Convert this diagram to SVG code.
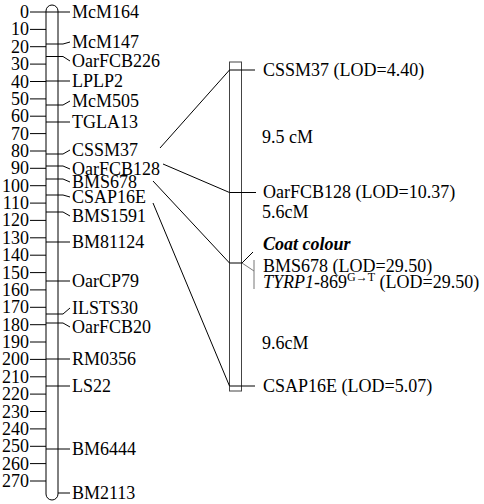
<svg xmlns="http://www.w3.org/2000/svg" width="484" height="504" viewBox="0 0 484 504">
<style>
text{font-family:"Liberation Serif","Times New Roman",serif;font-size:18px;fill:#000}
.num{text-anchor:end}
.tk{stroke:#000;stroke-width:1;fill:none}
.chr{stroke:#000;stroke-width:1;fill:#fff}
.chr2{stroke:#444;stroke-width:1;fill:#fff}
.ln{stroke:#000;stroke-width:1;fill:none}
.gr{stroke:#777;stroke-width:1;fill:none}
.bi{font-weight:bold;font-style:italic}
.it{font-style:italic}
.sup{font-size:12px}
</style>
<rect width="484" height="504" fill="#fff"/>
<g id="scale">
<path class="tk" d="M30,12H46M30,29.4H46M30,46.7H46M30,64.1H46M30,81.5H46M30,98.9H46M30,116.2H46M30,133.6H46M30,151H46M30,168.3H46M30,185.7H46M30,203.1H46M30,220.4H46M30,237.8H46M30,255.2H46M30,272.6H46M30,289.9H46M30,307.3H46M30,324.7H46M30,342H46M30,359.4H46M30,376.8H46M30,394.1H46M30,411.5H46M30,428.9H46M30,446.3H46M30,463.6H46M30,481H46"/>
<text class="num" x="29" y="18">0</text>
<text class="num" x="29" y="35.4">10</text>
<text class="num" x="29" y="52.7">20</text>
<text class="num" x="29" y="70.1">30</text>
<text class="num" x="29" y="87.5">40</text>
<text class="num" x="29" y="104.9">50</text>
<text class="num" x="29" y="122.2">60</text>
<text class="num" x="29" y="139.6">70</text>
<text class="num" x="29" y="157">80</text>
<text class="num" x="29" y="174.3">90</text>
<text class="num" x="29" y="191.7">100</text>
<text class="num" x="29" y="209.1">110</text>
<text class="num" x="29" y="226.4">120</text>
<text class="num" x="29" y="243.8">130</text>
<text class="num" x="29" y="261.2">140</text>
<text class="num" x="29" y="278.6">150</text>
<text class="num" x="29" y="295.9">160</text>
<text class="num" x="29" y="313.3">170</text>
<text class="num" x="29" y="330.7">180</text>
<text class="num" x="29" y="348">190</text>
<text class="num" x="29" y="365.4">200</text>
<text class="num" x="29" y="382.8">210</text>
<text class="num" x="29" y="400.1">220</text>
<text class="num" x="29" y="417.5">230</text>
<text class="num" x="29" y="434.9">240</text>
<text class="num" x="29" y="452.3">250</text>
<text class="num" x="29" y="469.6">260</text>
<text class="num" x="29" y="487">270</text>
</g>
<g id="chromosome-left">
<path class="chr" d="M46,11V494A6,6 0 0 0 58,494V11A6,6 0 0 0 46,11Z"/>
<path class="tk" d="M46,12H58M46,44H58M46,56.5H58M46,81H58M46,105H58M46,122H58M46,154H58M46,166H58M46,179H58M46,195H58M46,212H58M46,242H58M46,281H58M46,314H58M46,323H58M46,359H58M46,386H58M46,449H58"/>
</g>
<g id="markers-left">
<g id="m-McM164"><text x="72" y="18">McM164</text></g>
<g id="m-McM147"><text x="72" y="48">McM147</text></g>
<g id="m-OarFCB226"><text x="72" y="67">OarFCB226</text></g>
<g id="m-LPLP2"><text x="72" y="87">LPLP2</text></g>
<g id="m-McM505"><text x="72" y="107">McM505</text></g>
<g id="m-TGLA13"><text x="72" y="128">TGLA13</text></g>
<g id="m-CSSM37"><text x="72" y="156">CSSM37</text></g>
<g id="m-OarFCB128"><text x="72" y="175">OarFCB128</text></g>
<g id="m-BMS678"><text x="72" y="188">BMS678</text></g>
<g id="m-CSAP16E"><text x="72" y="203">CSAP16E</text></g>
<g id="m-BMS1591"><text x="72" y="222">BMS1591</text></g>
<g id="m-BM81124"><text x="72" y="248">BM81124</text></g>
<g id="m-OarCP79"><text x="72" y="287">OarCP79</text></g>
<g id="m-ILSTS30"><text x="72" y="314">ILSTS30</text></g>
<g id="m-OarFCB20"><text x="72" y="333">OarFCB20</text></g>
<g id="m-RM0356"><text x="72" y="365">RM0356</text></g>
<g id="m-LS22"><text x="72" y="392">LS22</text></g>
<g id="m-BM6444"><text x="72" y="455">BM6444</text></g>
<g id="m-BM2113"><text x="72" y="499">BM2113</text></g>
</g>
<g id="chromosome-right">
<rect class="chr2" x="229.5" y="62" width="12" height="329"/>
<path class="ln" d="M229.5,70H255M229.5,192.5H256M229.5,386H255"/>
<path class="ln" d="M229.5,263H242L253,252"/>
<path class="gr" d="M242,263L254,271M254,260V289"/>
</g>
<g id="markers-right">
<g id="r-CSSM37"><text x="263" y="76">CSSM37 (LOD=4.40)</text></g>
<g id="d-9.5"><text x="262" y="143">9.5 cM</text></g>
<g id="r-OarFCB128"><text x="263" y="198">OarFCB128 (LOD=10.37)</text></g>
<g id="d-5.6"><text x="262" y="218">5.6cM</text></g>
<g id="r-coat"><text class="bi" x="263" y="250">Coat colour</text>
<text x="263" y="272">BMS678 (LOD=29.50)</text>
<text x="263" y="288"><tspan class="it">TYRP1</tspan>-869<tspan class="sup" dy="-7">G→T</tspan><tspan dy="7"> (LOD=29.50)</tspan></text></g>
<g id="d-9.6"><text x="262" y="349">9.6cM</text></g>
<g id="r-CSAP16E"><text x="263" y="392">CSAP16E (LOD=5.07)</text></g>
</g>
<g id="connectors">
<path class="ln" d="M58,12H70M58,44H63L70,42M58,56.5H63L70,61M58,81H70M58,105H63L70,101M58,122H70M58,154H63L70,150M58,166H63L70,169M58,179H63L70,182M58,195H63L70,197M58,212H63L70,216M58,242H70M58,281H70M58,314H63L70,308M58,323H63L70,327M58,359H70M58,386H70M58,449H70M58,493H70"/>
<path class="ln" d="M160,148L229.5,70M163,164L229.5,192.5M153,181L229.5,263M153,203L229.5,386"/>
</g>
</svg>
